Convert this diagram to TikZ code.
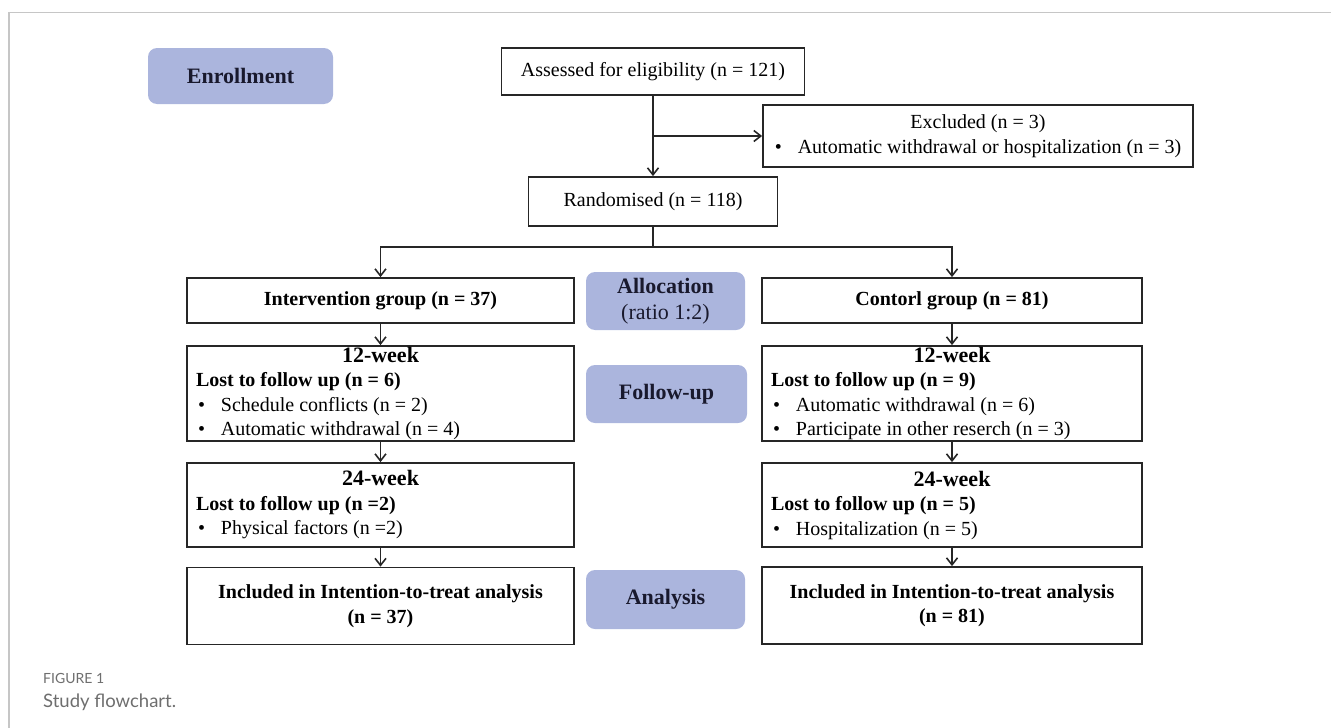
\documentclass[tikz,border=0pt]{standalone}
\usepackage{fontspec}
\setmainfont{Liberation Serif}
\newfontfamily\captionfont{Lato}
\usetikzlibrary{positioning,arrows.meta,calc}
\definecolor{phaseblue}{RGB}{171,181,221}
\definecolor{phasetext}{RGB}{25,25,45}
\definecolor{captiongray}{RGB}{110,110,110}
\setlength{\parindent}{0pt}
\newcommand{\bulletitem}[1]{\hspace*{2pt}\textbullet\hspace{16pt}#1}
\newcommand{\weekhead}[1]{\hfill{\fontsize{22}{24.5}\selectfont\bfseries #1}\hfill\null}

\begin{document}
\begin{tikzpicture}[x=1pt, y=-1pt,
		flow_box/.style={draw=black!85, line width=1.8pt, fill=white, inner sep=0pt, align=center, font=\fontsize{20}{24.5}\selectfont},
		bold_box/.style={flow_box, font=\fontsize{20}{24.5}\selectfont\bfseries},
		list_box/.style={flow_box, align=flush left, inner xsep=9pt, inner ysep=0pt},
		phase_box/.style={fill=phaseblue, rounded corners=9pt, inner sep=0pt, align=center, text=phasetext, font=\fontsize{22}{26}\selectfont},
		flow_line/.style={line width=1.6pt, black!85},
		flow_arrow/.style={flow_line, -{Straight Barb[length=7pt,width=11pt,line width=1.6pt]}},
		frame_line/.style={line width=1.3pt, gray!45}
		]
		
		\useasboundingbox (0,0) rectangle (1331,728);
		\draw[frame_line] (9,728) -- (9,12.5) -- (1331,12.5);
		
		\node[phase_box, minimum width=185pt, minimum height=56pt] (enroll) at (240.5,76) {\bfseries Enrollment};
		\node[phase_box, minimum width=159pt, minimum height=58pt] (alloc) at (665.5,301) {\textbf{Allocation}\\(ratio 1:2)};
		\node[phase_box, minimum width=161pt, minimum height=58pt] (follow) at (666.5,394) {\bfseries Follow-up};
		\node[phase_box, minimum width=159pt, minimum height=59pt] (analys) at (665.5,599.5) {\bfseries Analysis};
		
		\node[flow_box, minimum width=303pt, minimum height=47pt] (assess) at (653,71.5) {Assessed for eligibility (n = 121)};
		\node[flow_box, minimum width=430pt, minimum height=62pt] (excl) at (978,136) {Excluded (n = 3)\\\textbullet\hspace{16pt}Automatic withdrawal or hospitalization (n = 3)};
		\node[flow_box, minimum width=249pt, minimum height=49pt] (rand) at (653,201.5) {Randomised (n = 118)};
		
		\node[bold_box, minimum width=387pt, minimum height=45pt] (interv) at (380.5,300.5) {Intervention group (n = 37)};
		\node[bold_box, minimum width=380pt, minimum height=45pt] (ctrl) at (952,300.5) {Contorl group (n = 81)};
		
		\node[list_box, text width=369pt, minimum height=95pt] (lost_i12) at (380.5,393.5) {\weekhead{12-week}\\\textbf{Lost to follow up (n = 6)}\\\bulletitem{Schedule conflicts (n = 2)}\\\bulletitem{Automatic withdrawal (n = 4)}};
		\node[list_box, text width=362pt, minimum height=95pt] (lost_c12) at (952,393.5) {\weekhead{12-week}\\\textbf{Lost to follow up (n = 9)}\\\bulletitem{Automatic withdrawal (n = 6)}\\\bulletitem{Participate in other reserch (n = 3)}};
		\node[list_box, text width=369pt, minimum height=84pt] (lost_i24) at (380.5,505) {\weekhead{24-week}\\\textbf{Lost to follow up (n =2)}\\\bulletitem{Physical factors (n =2)}};
		\node[list_box, text width=362pt, minimum height=84pt] (lost_c24) at (952,505) {\weekhead{24-week}\\\textbf{Lost to follow up (n = 5)}\\\bulletitem{Hospitalization (n = 5)}};
		
		\node[bold_box, minimum width=387pt, minimum height=77pt] (itt_i) at (380.5,606) {Included in Intention-to-treat analysis\\(n = 37)};
		\node[bold_box, minimum width=380pt, minimum height=77pt] (itt_c) at (952,605.5) {Included in Intention-to-treat analysis\\(n = 81)};
		
		\coordinate (branch) at (assess.south |- excl.west);
		\coordinate (split) at ($(rand.south)+(0,20)$);
		
		\draw[flow_arrow] (assess.south) -- (rand.north);
		\draw[flow_arrow] (branch) -- (excl.west);
		\draw[flow_line] (rand.south) -- (split);
		\draw[flow_arrow] (split) -| (interv.north);
		\draw[flow_arrow] (split) -| (ctrl.north);
		\foreach \a/\b in {interv/lost_i12, lost_i12/lost_i24, lost_i24/itt_i, ctrl/lost_c12, lost_c12/lost_c24, lost_c24/itt_c} \draw[flow_arrow] (\a.south) -- (\b.north);
		
		\node[anchor=base west, inner sep=0pt, text=captiongray, font=\captionfont\fontsize{14}{16}\selectfont] (fig_no) at (43,683) {FIGURE 1};
		\node[anchor=base west, inner sep=0pt, text=captiongray, font=\captionfont\fontsize{18.5}{20}\selectfont] (fig_cap) at (43,707) {Study flowchart.};
	\end{tikzpicture}
\end{document}
